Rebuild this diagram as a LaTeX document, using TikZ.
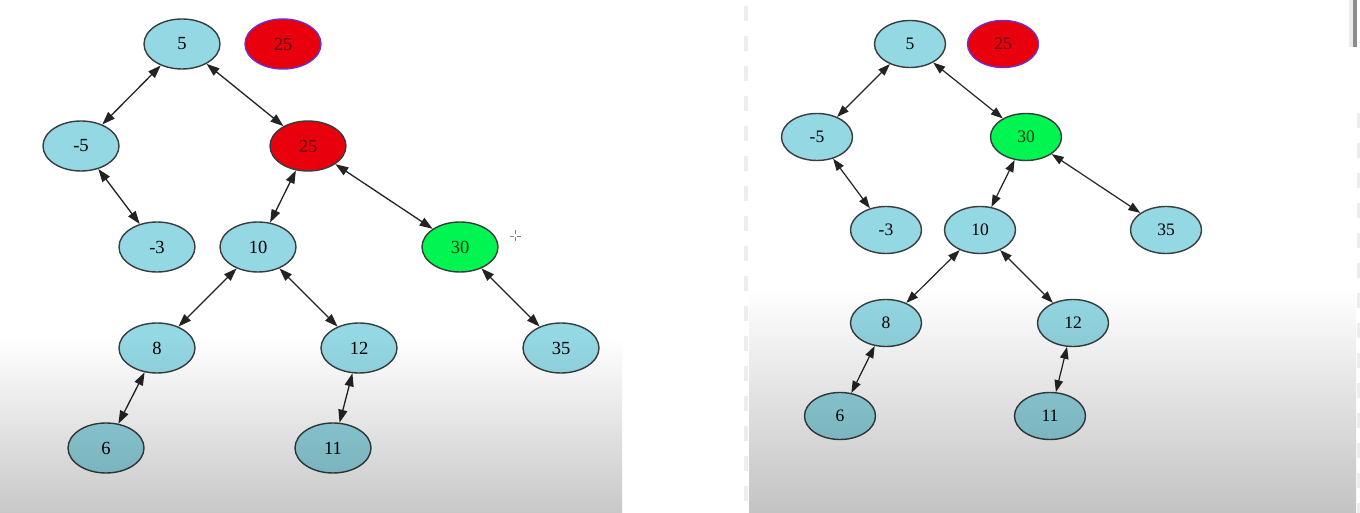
\documentclass[tikz,border=0pt]{standalone}
\usepackage{fontspec}
\setmainfont{Liberation Serif}
\usetikzlibrary{shapes.geometric,arrows.meta}

\definecolor{nodeblue}{RGB}{148,216,228}
\definecolor{nodeline}{RGB}{55,60,62}
\definecolor{edgeline}{RGB}{35,35,35}
\definecolor{hotred}{RGB}{232,0,12}
\definecolor{hotgreen}{RGB}{0,245,80}
\definecolor{violetline}{RGB}{110,45,205}
\definecolor{redtext}{RGB}{95,0,20}
\definecolor{greentext}{RGB}{10,60,20}
\definecolor{shadeL}{RGB}{200,200,200}
\definecolor{shadeR}{RGB}{195,195,195}

\begin{document}
\begin{tikzpicture}[x=1pt,y=1pt,
  bnode/.style={ellipse, draw=nodeline, line width=1.4pt, fill=nodeblue,
    minimum width=76pt, minimum height=50pt, inner sep=0pt,
    font=\fontsize{18.5}{20}\selectfont},
  rnode/.style={bnode, minimum width=71pt, minimum height=47pt,
    font=\fontsize{17.5}{19}\selectfont},
  redfill/.style={fill=hotred, text=redtext},
  greenfill/.style={fill=hotgreen, text=greentext},
  pending/.style={fill=hotred, draw=violetline, text=redtext},
  link/.style={draw=edgeline, line width=1.3pt,
    {Triangle[length=13pt,width=9pt]}-{Triangle[length=13pt,width=9pt]}},
  rlink/.style={draw=edgeline, line width=1.2pt,
    {Triangle[length=12pt,width=8.5pt]}-{Triangle[length=12pt,width=8.5pt]}},
]
\useasboundingbox (0,0) rectangle (1360,513);
\fill[white] (0,0) rectangle (1360,513);

% faint page-edge dashes and scroll bar of the right window
\draw[black!7, line width=4.5pt, dash pattern=on 15pt off 15pt] (746,507) -- (746,0);
\draw[black!7, line width=3pt, dash pattern=on 15pt off 15pt] (1358,400) -- (1358,0);
\fill[black!8] (1349,466) rectangle (1353,513);
\fill[black!45] (1353,466) rectangle (1357,513);

% ---------------- left tree ----------------
\node[bnode] (L5)  at (182,469) {5};
\node[bnode, pending] (Lq) at (283,469) {25};
\node[bnode] (Lm5) at (81,367) {-5};
\node[bnode, redfill] (L25) at (308,367) {25};
\node[bnode] (Lm3) at (157,266) {-3};
\node[bnode] (L10) at (258,266) {10};
\node[bnode, greenfill] (L30) at (460,266) {30};
\node[bnode] (L8)  at (157,165) {8};
\node[bnode] (L12) at (359,165) {12};
\node[bnode] (L35) at (561,165) {35};
\node[bnode] (L6)  at (106,65) {6};
\node[bnode] (L11) at (333,65) {11};

\draw[link] (L5) -- (Lm5);
\draw[link] (L5) -- (L25);
\draw[link] (Lm5) -- (Lm3);
\draw[link] (L25) -- (L10);
\draw[link] (L25) -- (L30);
\draw[link] (L10) -- (L8);
\draw[link] (L10) -- (L12);
\draw[link] (L30) -- (L35);
\draw[link] (L8) -- (L6);
\draw[link] (L12) -- (L11);

% pointer cross
\node[inner sep=0pt, minimum size=0pt] (cur) at (515,277) {};
\draw[black!50, line width=0.9pt]
  ([yshift=1.5pt]cur.center) -- ++(0,4)
  ([yshift=-1.5pt]cur.center) -- ++(0,-4)
  ([xshift=1.5pt]cur.center) -- ++(4,0)
  ([xshift=-1.5pt]cur.center) -- ++(-4,0);

% ---------------- right tree ----------------
\node[rnode] (R5)  at (910,469) {5};
\node[rnode, pending] (Rq) at (1003,469) {25};
\node[rnode] (Rm5) at (817,376) {-5};
\node[rnode, greenfill] (R30) at (1026,376) {30};
\node[rnode] (Rm3) at (886,283) {-3};
\node[rnode] (R10) at (980,283) {10};
\node[rnode] (R35) at (1166,283) {35};
\node[rnode] (R8)  at (886,190) {8};
\node[rnode] (R12) at (1073,190) {12};
\node[rnode] (R6)  at (840,97) {6};
\node[rnode] (R11) at (1050,97) {11};

\draw[rlink] (R5) -- (Rm5);
\draw[rlink] (R5) -- (R30);
\draw[rlink] (Rm5) -- (Rm3);
\draw[rlink] (R30) -- (R10);
\draw[rlink] (R30) -- (R35);
\draw[rlink] (R10) -- (R8);
\draw[rlink] (R10) -- (R12);
\draw[rlink] (R8) -- (R6);
\draw[rlink] (R12) -- (R11);

% darkening toward the bottom of both windows
\begin{scope}[blend mode=multiply]
  \shade[top color=white, bottom color=shadeL] (0,0) rectangle (622,175);
  \shade[top color=white, bottom color=shadeR] (749,0) rectangle (1356,225);
\end{scope}
\end{tikzpicture}
\end{document}
